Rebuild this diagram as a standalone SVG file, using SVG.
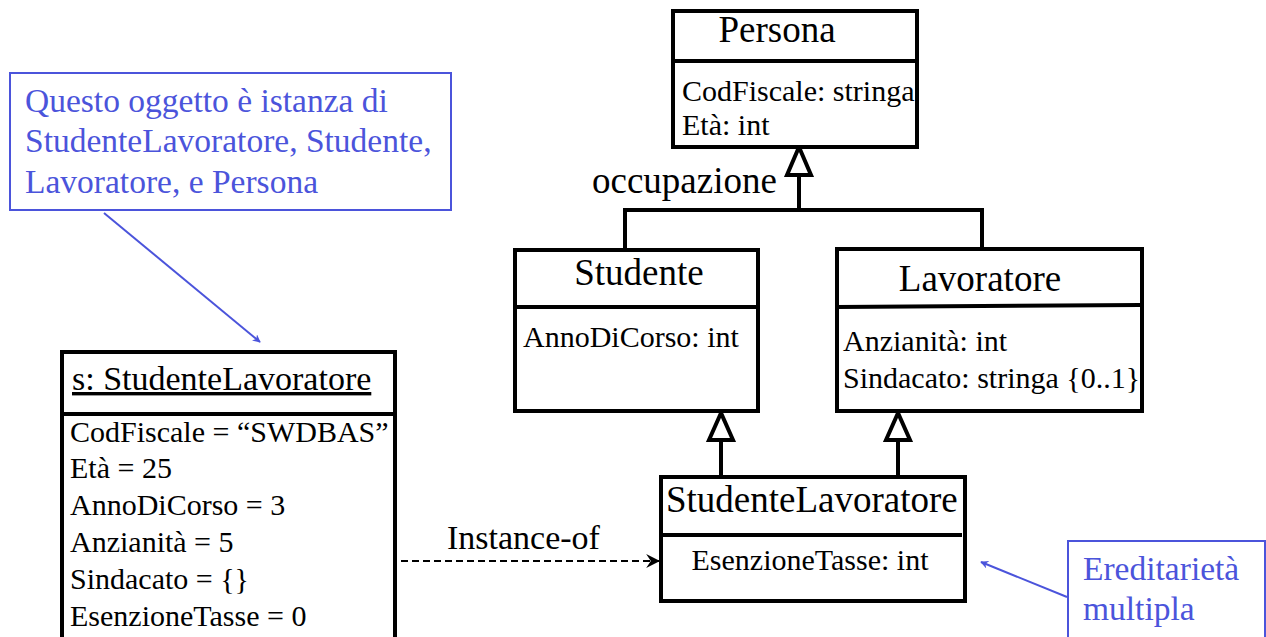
<svg xmlns="http://www.w3.org/2000/svg" width="1266" height="637" viewBox="0 0 1266 637">
<style>
.box{fill:#fff;stroke:#000;stroke-width:4}
.div{stroke:#000;stroke-width:4}
.t{font-family:"Liberation Serif","Times New Roman",serif;fill:#000}
.title{font-size:37px}
.attr{font-size:30px}
.note{fill:#fff;stroke:#4B54DB;stroke-width:2}
.nt{font-family:"Liberation Serif","Times New Roman",serif;font-size:33.5px;fill:#4B54DB}
.gen{stroke:#000;stroke-width:4;fill:none}
.tri{fill:#fff;stroke:#000;stroke-width:4;stroke-linejoin:miter}
</style>
<defs>
<marker id="blueArrow" viewBox="0 0 10 10" refX="9" refY="5" markerWidth="8" markerHeight="8" markerUnits="userSpaceOnUse" orient="auto">
<path d="M0,0 L10,5 L0,10 L3,5 z" fill="#4B54DB"/>
</marker>
<marker id="openArrow" viewBox="0 0 12 12" refX="11" refY="6" markerWidth="14" markerHeight="14" markerUnits="userSpaceOnUse" orient="auto">
<path d="M0,0 L12,6 L0,12 L4,6 z" fill="#000"/>
</marker>
</defs>

<g id="connectors">
<polyline class="gen" points="625,248 625,210 982,210 982,249"/>
<line class="gen" x1="799" y1="175" x2="799" y2="210"/>
<polygon class="tri" points="799,147 787,175 811,175"/>
<line class="gen" x1="721" y1="440" x2="721" y2="477"/>
<polygon class="tri" points="721,413 709,440 733,440"/>
<line class="gen" x1="898" y1="440" x2="898" y2="477"/>
<polygon class="tri" points="898,413 886,440 910,440"/>
<line x1="401" y1="561" x2="659" y2="561" stroke="#000" stroke-width="2" stroke-dasharray="7 4" marker-end="url(#openArrow)"/>
<text class="t" x="447" y="549" font-size="34px">Instance-of</text>
<text class="t title" x="592" y="193">occupazione</text>
<line x1="104" y1="213" x2="260" y2="342" stroke="#4B54DB" stroke-width="2" marker-end="url(#blueArrow)"/>
<line x1="1067" y1="597" x2="981" y2="562" stroke="#4B54DB" stroke-width="2" marker-end="url(#blueArrow)"/>
</g>

<g id="persona">
<rect class="box" x="673" y="11" width="244" height="136"/>
<line class="div" x1="673" y1="61" x2="917" y2="61"/>
<text class="t title" x="777" y="42" text-anchor="middle">Persona</text>
<text class="t attr" x="682" y="101">CodFiscale: stringa</text>
<text class="t attr" x="682" y="135">Età: int</text>
</g>

<g id="studente">
<rect class="box" x="515" y="250" width="243" height="161"/>
<line class="div" x1="515" y1="307" x2="758" y2="307"/>
<text class="t title" x="639" y="285" text-anchor="middle">Studente</text>
<text class="t attr" x="523" y="347">AnnoDiCorso: int</text>
</g>

<g id="lavoratore">
<rect class="box" x="837" y="249" width="305" height="162"/>
<line class="div" x1="837" y1="307" x2="1140" y2="305"/>
<text class="t title" x="980" y="291" text-anchor="middle">Lavoratore</text>
<text class="t attr" x="843" y="351">Anzianità: int</text>
<text class="t attr" x="843" y="388">Sindacato: stringa {0..1}</text>
</g>

<g id="studenteLavoratore">
<rect class="box" x="661" y="477" width="304" height="124"/>
<line class="div" x1="661" y1="535" x2="962" y2="535"/>
<text class="t title" x="666" y="512">StudenteLavoratore</text>
<text class="t attr" x="810" y="570" text-anchor="middle">EsenzioneTasse: int</text>
</g>

<g id="oggetto">
<rect class="box" x="62" y="352" width="333" height="300"/>
<line class="div" x1="62" y1="414" x2="397" y2="414"/>
<text class="t" x="72" y="390" font-size="34px" text-decoration="underline">s: StudenteLavoratore</text>
<text class="t attr" x="70" y="442">CodFiscale = “SWDBAS”</text>
<text class="t attr" x="70" y="478">Età = 25</text>
<text class="t attr" x="70" y="515">AnnoDiCorso = 3</text>
<text class="t attr" x="70" y="552">Anzianità = 5</text>
<text class="t attr" x="70" y="589">Sindacato = {}</text>
<text class="t attr" x="70" y="626">EsenzioneTasse = 0</text>
</g>

<g id="nota1">
<rect class="note" x="10" y="73" width="441" height="137"/>
<text class="nt" x="25" y="112">Questo oggetto è istanza di</text>
<text class="nt" x="25" y="152">StudenteLavoratore, Studente,</text>
<text class="nt" x="25" y="193">Lavoratore, e Persona</text>
</g>

<g id="nota2">
<rect class="note" x="1068" y="541" width="197" height="110"/>
<text class="nt" x="1083" y="580">Ereditarietà</text>
<text class="nt" x="1083" y="620">multipla</text>
</g>
</svg>
